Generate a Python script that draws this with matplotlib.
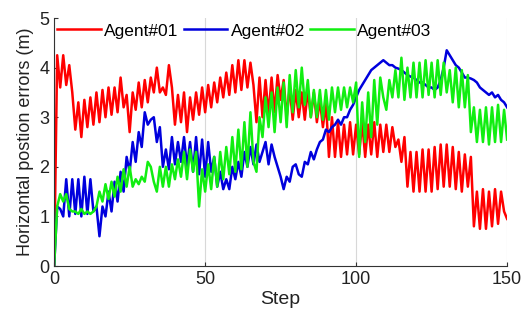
import numpy as np
import matplotlib
matplotlib.use('Agg')
import matplotlib.pyplot as plt

# horizontal position errors per step
steps = list(range(151))

agent01 = [0, 4.25, 3.6, 4.25, 3.65, 4.05, 3.5, 2.75, 3.3, 2.6,
           3.35, 2.8, 3.4, 2.85, 3.5, 2.9, 3.55, 3.0, 3.6, 3.05,
           3.6, 3.1, 3.8, 3.2, 3.45, 2.7, 3.5, 3.15, 3.7, 3.2,
           3.75, 3.3, 3.8, 3.5, 4.0, 3.5, 3.6, 3.45, 4.05, 3.6,
           2.85, 3.45, 2.9, 3.5, 2.7, 3.4, 2.95, 3.5, 3.05, 3.6,
           3.1, 3.65, 3.2, 3.7, 3.3, 3.8, 3.4, 3.9, 3.45, 4.05,
           3.5, 4.15, 3.55, 4.15, 3.6, 4.1, 3.65, 2.9, 3.8, 3.0,
           3.75, 3.05, 3.8, 3.1, 3.85, 3.35, 3.75, 3.0, 3.6, 2.95,
           3.55, 3.0, 3.5, 2.95, 3.55, 3.0, 3.5, 2.9, 3.35, 2.8,
           3.3, 2.2, 3.0, 2.2, 2.9, 2.2, 2.85, 2.25, 2.9, 2.25,
           2.85, 2.25, 2.9, 2.2, 2.85, 2.25, 2.9, 2.2, 2.85, 2.3,
           2.85, 2.3, 2.8, 2.4, 2.55, 2.1, 2.6, 1.6, 2.3, 1.5,
           2.3, 1.5, 2.35, 1.5, 2.35, 1.5, 2.4, 1.55, 2.45, 1.6,
           2.45, 1.6, 2.4, 1.55, 2.3, 1.5, 2.25, 1.6, 2.2, 0.8,
           1.5, 0.75, 1.55, 0.75, 1.5, 0.8, 1.55, 0.85, 1.5, 1.1,
           0.95]

agent02 = [0, 1.2, 1.15, 1.0, 1.75, 1.0, 1.75, 1.05, 1.75, 1.0,
           1.8, 1.05, 1.75, 1.1, 1.2, 0.6, 1.2, 1.0, 1.5, 1.1,
           1.7, 1.3, 1.9, 1.5, 2.2, 1.9, 2.5, 2.1, 2.7, 2.4,
           3.1, 2.85, 2.95, 3.0, 2.5, 2.8, 2.0, 2.35, 1.95, 2.6,
           2.05, 2.5, 2.1, 2.6, 2.0, 2.5, 1.9, 2.6, 1.85, 2.55,
           1.8, 2.5, 1.9, 2.2, 1.6, 1.9, 1.55, 1.75, 1.55, 2.0,
           1.75, 2.1, 1.8, 2.3, 2.0, 2.4, 2.05, 2.45, 2.1, 2.3,
           2.5, 2.05, 2.45, 2.2, 2.0, 1.8, 1.55, 1.8, 1.7, 2.0,
           2.05, 1.85, 1.8, 2.1, 2.05, 2.3, 2.15, 2.35, 2.5, 2.55,
           2.75, 2.7, 2.8, 2.85, 2.95, 2.85, 3.0, 3.0, 3.15, 3.25,
           3.4, 3.55, 3.65, 3.75, 3.85, 3.95, 4.0, 4.05, 4.1, 4.15,
           4.1, 4.05, 4.05, 4.0, 3.98, 3.95, 3.9, 3.85, 3.82, 3.8,
           3.75, 3.7, 3.7, 3.65, 3.6, 3.6, 3.55, 3.6, 3.75, 4.0,
           4.35, 4.25, 4.15, 4.05, 4.0, 3.9, 3.8, 3.8, 3.78, 3.75,
           3.7, 3.6, 3.55, 3.5, 3.45, 3.5, 3.4, 3.45, 3.35, 3.3,
           3.2]

agent03 = [0, 1.2, 1.45, 1.3, 1.45, 1.15, 1.1, 1.1, 1.05, 1.15,
           1.05, 1.1, 1.05, 1.1, 1.2, 1.5, 1.3, 1.65, 1.35, 1.7,
           1.4, 1.8, 1.5, 1.95, 1.6, 2.0, 1.6, 1.75, 1.65, 1.8,
           1.7, 2.1, 2.0, 1.7, 1.5, 2.0, 1.6, 2.0, 1.6, 2.05,
           1.75, 2.15, 1.8, 2.3, 1.75, 2.35, 1.9, 2.3, 1.2, 1.95,
           1.5, 2.05, 1.55, 2.2, 1.6, 2.3, 1.75, 2.4, 1.85, 2.6,
           1.9, 2.75, 1.95, 2.9, 2.0, 3.1, 2.1, 1.9, 3.0, 2.6,
           3.4, 2.8, 3.5, 2.7, 3.6, 2.9, 3.7, 2.8, 3.85, 3.1,
           3.95, 3.2, 4.0, 3.25, 3.75, 3.0, 3.55, 3.0, 3.55, 2.95,
           3.55, 2.95, 3.6, 3.1, 3.6, 3.15, 3.6, 3.2, 3.6, 3.3,
           3.7, 2.2, 3.3, 2.5, 3.5, 2.6, 3.75, 2.85, 3.8, 3.4,
           3.15, 3.75, 3.4, 3.95, 3.4, 4.2, 3.35, 4.0, 3.4, 4.1,
           3.4, 4.1, 3.4, 4.15, 3.45, 4.1, 3.4, 4.15, 3.45, 4.1,
           3.5, 3.95, 3.3, 4.0, 3.2, 3.95, 3.2, 3.85, 2.7, 3.2,
           2.5, 3.15, 2.5, 3.2, 2.45, 3.2, 2.5, 3.25, 2.5, 3.15,
           2.55]

labels = ['Agent#01', 'Agent#02', 'Agent#03']
colors = ['#ff0000', '#0000dd', '#11ee11']

plt.rcParams['font.family'] = ['Liberation Sans', 'DejaVu Sans']

fig = plt.figure(figsize=(5.31, 3.28), dpi=100)
ax = fig.add_axes([0.102, 0.189, 0.853, 0.756])

for series, lab, col in zip([agent01, agent02, agent03], labels, colors):
    ax.plot(steps, series, color=col, linewidth=1.8, label=lab)

ax.set_xlim(0, 150)
ax.set_ylim(0, 5)
ax.set_xticks([0, 50, 100, 150])
ax.set_yticks([0, 1, 2, 3, 4, 5])
ax.grid(axis='x', color='#d8d8d8', linewidth=0.8)
ax.set_axisbelow(True)
ax.spines['top'].set_visible(False)
ax.spines['right'].set_visible(False)
ax.spines['left'].set_color('#333333')
ax.spines['bottom'].set_color('#333333')
ax.tick_params(direction='in', length=3, labelsize=13, colors='#333333')
ax.tick_params(axis='both', labelcolor='#222222')
ax.set_xlabel('Step', fontsize=14, color='#222222', labelpad=2)
ax.set_ylabel('Horizontal postion errors (m)', fontsize=13, color='#222222', labelpad=4)

ax.legend(loc='center', ncol=3, frameon=False, fontsize=12.5,
          handlelength=2.5, handletextpad=0.2, columnspacing=0.3,
          bbox_to_anchor=(0.42, 0.948), borderaxespad=0.0)

fig.savefig('out.png', dpi=100)
